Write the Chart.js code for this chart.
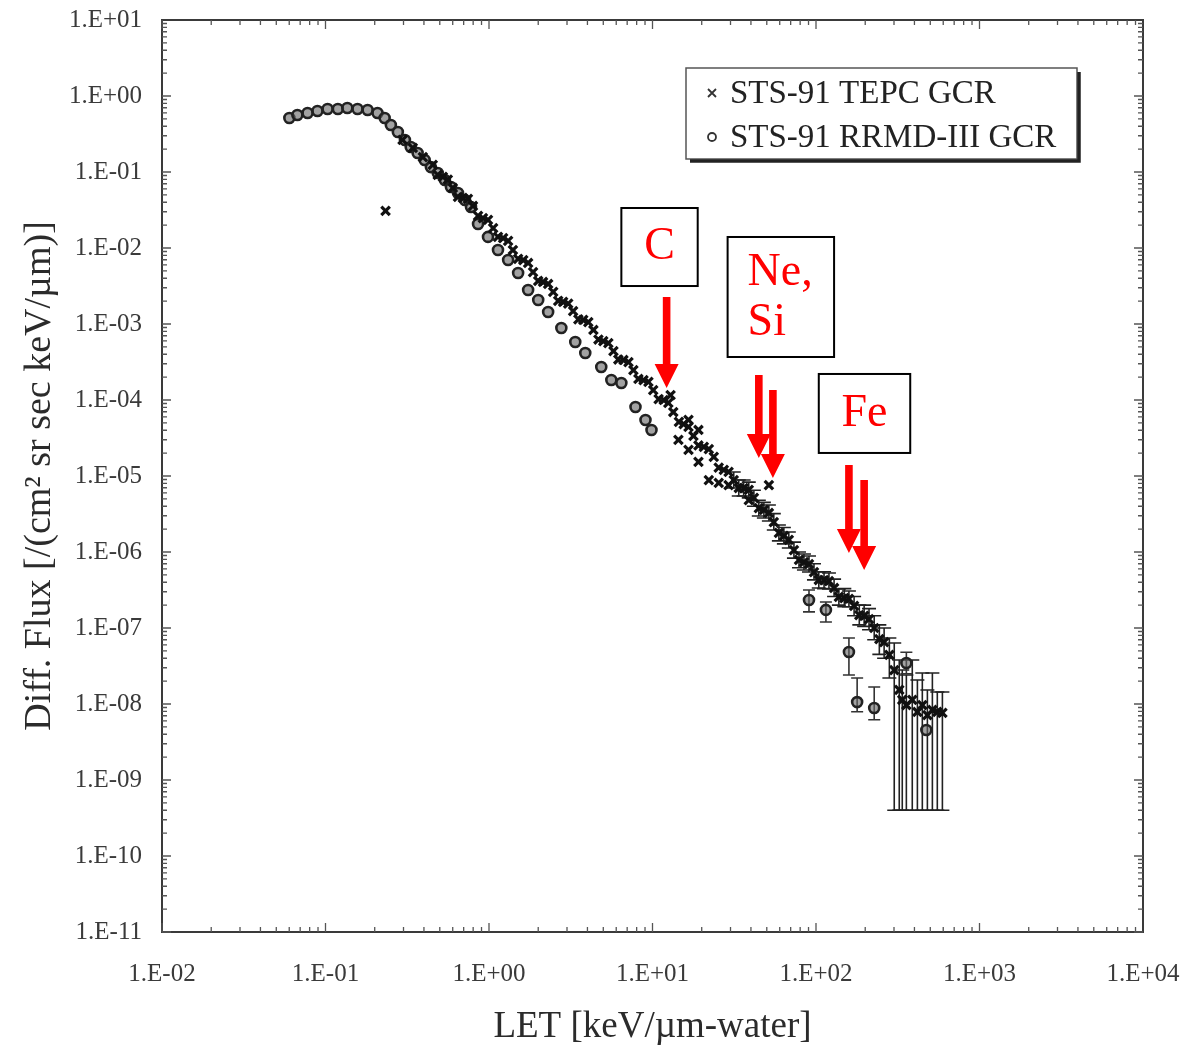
<!DOCTYPE html>
<html><head><meta charset="utf-8">
<script src="https://cdn.jsdelivr.net/npm/chart.js@4.4.0/dist/chart.umd.min.js"></script>
<style>html,body{margin:0;padding:0;background:#fff}#wrap{width:1186px;height:1049px}</style>
</head><body><div id="wrap"><canvas id="c" width="1186" height="1049"></canvas></div>
<script>
// ---------------- data ----------------
const xTickValues = [1e-2, 1e-1, 1e0, 1e1, 1e2, 1e3, 1e4];
const yTickValues = [1e1, 1e0, 1e-1, 1e-2, 1e-3, 1e-4, 1e-5, 1e-6, 1e-7, 1e-8, 1e-9, 1e-10, 1e-11];

const seriesNames = ['STS-91 TEPC GCR', 'STS-91 RRMD-III GCR'];

// STS-91 TEPC GCR (x markers) - main trace
const tepcLET = [0.233,
  0.296,0.342,0.394,0.453,0.522,0.601,0.692,0.798,0.918,1.06,1.22,1.40,1.62,1.86,2.14,2.47,2.84,3.27,3.77,4.35,
  5.00,5.77,6.64,7.64,8.81,10.1,11.7,13.4,15.5,17.8,20.6,23.7,27.3,31.4,36.1,41.7,48.0,55.2,63.6,73.3,
  84.4,97.2,112,129,149,171,197,227,261,281,301,323,337,357,388,417,447,480,515,552,593,
  12.9,16.6,19.1,14.4,16.6,19.1,22.1,25.4,29.2,38.8,51.5];
const tepcFlux = [0.0307,
  0.264,0.207,0.157,0.124,0.0860,0.0616,0.0455,0.0357,0.0248,0.0183,0.0135,0.00941,0.00695,0.00483,0.00357,0.00264,0.00195,0.00148,0.00113,8.34e-4,
  5.97e-4,4.41e-4,3.36e-4,2.48e-4,1.83e-4,1.35e-4,1.0e-4,6.95e-5,4.83e-5,3.36e-5,2.41e-5,1.78e-5,1.20e-5,8.85e-6,6.95e-6,5.14e-6,3.57e-6,2.48e-6,1.63e-6,1.06e-6,
  7.38e-7,5.45e-7,4.28e-7,3.36e-7,2.48e-7,1.95e-7,1.44e-7,1.0e-7,6.54e-8,4.42e-8,2.80e-8,1.53e-8,1.13e-8,9.70e-9,1.13e-8,7.85e-9,9.70e-9,7.16e-9,8.34e-9,7.85e-9,7.62e-9,
  1.16e-4,5.46e-5,4.03e-5,2.98e-5,2.2e-5,1.53e-5,8.85e-6,8.1e-6,7.6e-6,4.83e-6,7.6e-6];
const tepcFluxLo = [null,
  null,null,null,null,null,null,null,null,null,null,null,null,null,null,null,null,null,null,null,null,
  null,null,null,null,null,null,null,null,null,null,null,null,null,6.95e-6,5.45e-6,4.0e-6,2.8e-6,1.95e-6,1.28e-6,8.3e-7,
  5.8e-7,4.3e-7,3.3e-7,2.6e-7,1.9e-7,1.45e-7,1.05e-7,7.0e-8,4.0e-8,2.2e-8,4e-10,4e-10,4e-10,4e-10,4e-10,4e-10,4e-10,4e-10,4e-10,4e-10,4e-10,
  null,null,null,null,null,null,null,null,null,null,null];
const tepcFluxHi = [null,
  null,null,null,null,null,null,null,null,null,null,null,null,null,null,null,null,null,null,null,null,
  null,null,null,null,null,null,null,null,null,null,null,null,null,1.13e-5,8.85e-6,6.5e-6,4.5e-6,3.2e-6,2.1e-6,1.35e-6,
  9.4e-7,7.0e-7,5.5e-7,4.4e-7,3.3e-7,2.6e-7,2.0e-7,1.45e-7,1.0e-7,7.4e-8,6.35e-8,3.8e-8,2.8e-8,2.41e-8,3.8e-8,2.07e-8,2.56e-8,1.53e-8,2.56e-8,1.44e-8,1.44e-8,
  null,null,null,null,null,null,null,null,null,null,null];

// STS-91 TEPC GCR - additional points filling the thick band
const tepcBandLET = [0.486,0.560,0.646,0.743,0.857,0.986,1.135,1.309,1.507,1.735,2.0,2.30,2.65,3.05,3.52,4.05,4.67,5.37,6.18,7.13,
  8.20,9.44,10.9,12.5,14.5,16.6,19.1,22.1,25.4,29.2,33.7,38.8,44.7,51.5,59.3,68.2,78.7,90.6,104,120,138,159,184,211,244];
const tepcBandFlux = [0.0914,0.0796,0.0469,0.0442,0.0264,0.0234,0.0140,0.0124,0.00717,0.00635,0.00368,0.00336,0.00201,0.00186,0.00115,0.00106,6.25e-4,5.62e-4,3.41e-4,3.16e-4,
  1.89e-4,1.73e-4,1.03e-4,9.14e-5,5.14e-5,4.42e-5,2.52e-5,2.26e-5,1.29e-5,1.13e-5,6.95e-6,6.55e-6,3.79e-6,3.26e-6,1.78e-6,1.44e-6,7.85e-7,6.95e-7,4.28e-7,4.15e-7,2.56e-7,2.41e-7,1.48e-7,1.31e-7,7.16e-8];
const tepcBandLo = [null,null,null,null,null,null,null,null,null,null,null,null,null,null,null,null,null,null,null,null,
  null,null,null,null,null,null,null,null,null,null,5.45e-6,5.15e-6,2.98e-6,2.56e-6,1.4e-6,1.13e-6,6.2e-7,5.45e-7,3.36e-7,3.26e-7,2.0e-7,1.9e-7,1.1e-7,9.5e-8,4.5e-8];
const tepcBandHi = [null,null,null,null,null,null,null,null,null,null,null,null,null,null,null,null,null,null,null,null,
  null,null,null,null,null,null,null,null,null,null,8.85e-6,8.3e-6,4.8e-6,4.15e-6,2.27e-6,1.83e-6,1.0e-6,8.85e-7,5.45e-7,5.3e-7,3.26e-7,3.07e-7,2.0e-7,1.8e-7,1.1e-7];

// STS-91 RRMD-III GCR (o markers)
const rrmdLET = [0.0601,0.0673,0.0777,0.0893,0.103,0.119,0.136,0.157,0.181,0.208,0.230,0.251,0.277,0.306,0.332,0.366,0.404,0.441,0.486,0.537,
  0.585,0.646,0.713,0.776,0.857,0.986,1.135,1.309,1.507,1.735,2.0,2.30,2.77,3.37,3.88,4.86,5.60,6.45,7.87,9.06,9.86,
  90.6,115,159,178.5,227,357,473];
const rrmdFlux = [0.514,0.562,0.597,0.635,0.675,0.675,0.695,0.675,0.655,0.597,0.514,0.415,0.336,0.264,0.213,0.178,0.144,0.116,0.097,0.0785,
  0.0635,0.0530,0.0428,0.0346,0.0207,0.0140,0.00941,0.00695,0.00469,0.00280,0.00207,0.00144,8.86e-4,5.80e-4,4.15e-4,2.72e-4,1.83e-4,1.67e-4,8.09e-5,5.46e-5,4.03e-5,
  2.34e-7,1.73e-7,4.83e-8,1.06e-8,8.86e-9,3.46e-8,4.55e-9];
const rrmdFluxLo = [null,null,null,null,null,null,null,null,null,null,null,null,null,null,null,null,null,null,null,null,
  null,null,null,null,null,null,null,null,null,null,null,null,null,null,null,null,null,null,null,null,null,
  1.63e-7,1.2e-7,2.41e-8,7.9e-9,6.2e-9,2.5e-8,null];
const rrmdFluxHi = [null,null,null,null,null,null,null,null,null,null,null,null,null,null,null,null,null,null,null,null,
  null,null,null,null,null,null,null,null,null,null,null,null,null,null,null,null,null,null,null,null,null,
  3.16e-7,2.2e-7,7.4e-8,2.2e-8,1.67e-8,4.8e-8,null];

// Red annotations (data coordinates: LET, flux)
const annotLabels = [['C'], ['Ne,', 'Si'], ['Fe']];
const annotBoxLET  = [[6.45, 18.9], [28.8, 129], [104, 377]];
const annotBoxFlux = [[0.0336, 0.00316], [0.01396, 3.68e-4], [2.2e-4, 2.01e-5]];
const arrowLET      = [12.2, 44.7, 54.5, 159, 197];
const arrowFluxFrom = [2.26e-3, 2.13e-4, 1.35e-4, 1.4e-5, 8.86e-6];
const arrowFluxTo   = [1.44e-4, 1.73e-5, 9.42e-6, 9.7e-7, 5.8e-7];

// ---------------- helpers ----------------
const SERIF = "'Liberation Serif', 'DejaVu Serif', serif";
const INK = '#2b2b2b';
function fmtExp(v) {
  const e = Math.round(Math.log10(v));
  const s = e < 0 ? '-' : '+';
  const a = Math.abs(e);
  return '1.E' + s + (a < 10 ? '0' + a : '' + a);
}
function pts(xs, ys) { return xs.map((x, i) => ({x: x, y: ys[i]})); }

const errorBars = {
  id: 'errorBars',
  beforeDatasetsDraw(chart) {
    const ctx = chart.ctx, xs = chart.scales.x, ys = chart.scales.y;
    ctx.save();
    chart.data.datasets.forEach(ds => {
      if (!ds.errLo) return;
      ctx.strokeStyle = ds.errColor;
      ctx.lineWidth = 1.6;
      ds.data.forEach((p, j) => {
        const lo = ds.errLo[j], hi = ds.errHi[j];
        if (lo == null || hi == null) return;
        const x = xs.getPixelForValue(p.x);
        const y1 = ys.getPixelForValue(hi), y2 = ys.getPixelForValue(lo);
        const c = ds.capHalf;
        ctx.beginPath();
        ctx.moveTo(x, y1); ctx.lineTo(x, y2);
        ctx.moveTo(x - c, y1); ctx.lineTo(x + c, y1);
        ctx.moveTo(x - c, y2); ctx.lineTo(x + c, y2);
        ctx.stroke();
      });
    });
    ctx.restore();
  }
};

const frameAndExtras = {
  id: 'frameAndExtras',
  afterDraw(chart) {
    const ctx = chart.ctx, a = chart.chartArea, xs = chart.scales.x, ys = chart.scales.y;
    ctx.save();
    // frame
    ctx.strokeStyle = '#3a3a3a';
    ctx.lineWidth = 2;
    ctx.strokeRect(a.left, a.top, a.right - a.left, a.bottom - a.top);
    // inward ticks
    ctx.lineWidth = 1.3;
    ctx.strokeStyle = '#555';
    ctx.beginPath();
    for (let e = -2; e < 4; e++) {
      for (let m = 1; m < 10; m++) {
        const v = m * Math.pow(10, e);
        const x = xs.getPixelForValue(v);
        const L = m === 1 ? 9 : 5;
        ctx.moveTo(x, a.bottom); ctx.lineTo(x, a.bottom - L);
        ctx.moveTo(x, a.top); ctx.lineTo(x, a.top + L);
      }
    }
    for (let e = -11; e < 1; e++) {
      for (let m = 1; m < 10; m++) {
        const v = m * Math.pow(10, e);
        const y = ys.getPixelForValue(v);
        const L = m === 1 ? 9 : 5;
        ctx.moveTo(a.left, y); ctx.lineTo(a.left + L, y);
        ctx.moveTo(a.right, y); ctx.lineTo(a.right - L, y);
      }
    }
    ctx.stroke();

    // red annotation boxes
    ctx.font = '46px ' + SERIF;
    annotLabels.forEach((lines, i) => {
      const x0 = xs.getPixelForValue(annotBoxLET[i][0]), x1 = xs.getPixelForValue(annotBoxLET[i][1]);
      const y0 = ys.getPixelForValue(annotBoxFlux[i][0]), y1 = ys.getPixelForValue(annotBoxFlux[i][1]);
      ctx.fillStyle = '#fff';
      ctx.fillRect(x0, y0, x1 - x0, y1 - y0);
      ctx.strokeStyle = '#000';
      ctx.lineWidth = 2;
      ctx.strokeRect(x0, y0, x1 - x0, y1 - y0);
      ctx.fillStyle = '#ff0000';
      ctx.textBaseline = 'middle';
      if (lines.length === 1) {
        ctx.textAlign = 'center';
        ctx.fillText(lines[0], (x0 + x1) / 2, (y0 + y1) / 2);
      } else {
        ctx.textAlign = 'left';
        const h = (y1 - y0);
        lines.forEach((t, k) => ctx.fillText(t, x0 + 20, y0 + h * (0.3 + 0.42 * k)));
      }
    });
    // red arrows
    ctx.fillStyle = '#ff0000';
    arrowLET.forEach((lx, i) => {
      const x = xs.getPixelForValue(lx);
      const yA = ys.getPixelForValue(arrowFluxFrom[i]);
      const yB = ys.getPixelForValue(arrowFluxTo[i]);
      const hw = 12, hl = 24, sw = 3.8;
      ctx.beginPath();
      ctx.moveTo(x - sw, yA); ctx.lineTo(x + sw, yA);
      ctx.lineTo(x + sw, yB - hl); ctx.lineTo(x + hw, yB - hl);
      ctx.lineTo(x, yB); ctx.lineTo(x - hw, yB - hl);
      ctx.lineTo(x - sw, yB - hl); ctx.closePath();
      ctx.fill();
    });

    // legend
    const L = a.right - 457, T = a.top + 48, W = 391, H = 91;
    ctx.fillStyle = '#fff';
    ctx.fillRect(L, T, W, H);
    ctx.strokeStyle = '#555';
    ctx.lineWidth = 1.5;
    ctx.strokeRect(L, T, W, H);
    ctx.strokeStyle = '#222';
    ctx.lineWidth = 3.5;
    ctx.beginPath();
    ctx.moveTo(L + 4, T + H + 2); ctx.lineTo(L + W + 2, T + H + 2); ctx.lineTo(L + W + 2, T + 4);
    ctx.stroke();
    ctx.font = '33px ' + SERIF;
    ctx.textAlign = 'left';
    ctx.textBaseline = 'middle';
    chart.data.datasets.forEach((ds, i) => {
      const cy = T + 25 + i * 44;
      const mx = L + 26;
      ctx.strokeStyle = '#333';
      ctx.lineWidth = 1.8;
      ctx.beginPath();
      if (ds.pointStyle === 'crossRot') {
        ctx.moveTo(mx - 4, cy - 4); ctx.lineTo(mx + 4, cy + 4);
        ctx.moveTo(mx + 4, cy - 4); ctx.lineTo(mx - 4, cy + 4);
      } else {
        ctx.arc(mx, cy, 4, 0, Math.PI * 2);
      }
      ctx.stroke();
      ctx.fillStyle = '#222';
      ctx.fillText(ds.label, L + 44, cy + 1);
    });
    ctx.restore();
  }
};

new Chart(document.getElementById('c'), {
  type: 'scatter',
  data: {
    datasets: [
      {
        label: seriesNames[0],
        data: pts(tepcLET.concat(tepcBandLET), tepcFlux.concat(tepcBandFlux)),
        errLo: tepcFluxLo.concat(tepcBandLo), errHi: tepcFluxHi.concat(tepcBandHi),
        errColor: '#222', capHalf: 7,
        pointStyle: 'crossRot', pointRadius: 6, borderWidth: 3.2,
        borderColor: '#111', backgroundColor: '#111', order: 1
      },
      {
        label: seriesNames[1],
        data: pts(rrmdLET, rrmdFlux),
        errLo: rrmdFluxLo, errHi: rrmdFluxHi, errColor: '#333', capHalf: 6,
        pointStyle: 'circle', pointRadius: 5, borderWidth: 2.6,
        borderColor: '#222', backgroundColor: 'rgba(100,100,100,0.6)', order: 2
      }
    ]
  },
  options: {
    responsive: false,
    devicePixelRatio: 1,
    animation: false,
    layout: { padding: { top: 20, right: 43, bottom: 0, left: 0 } },
    plugins: { legend: { display: false }, tooltip: { enabled: false } },
    scales: {
      x: {
        type: 'logarithmic', min: 1e-2, max: 1e4, position: 'bottom',
        grid: { display: false, drawTicks: false },
        border: { display: false },
        afterBuildTicks: s => { s.ticks = xTickValues.map(v => ({ value: v })); },
        afterFit: s => { s.height = 117; s.paddingLeft = 0; s.paddingRight = 0; },
        ticks: {
          autoSkip: false, maxRotation: 0, padding: 27, color: '#3a3a3a',
          font: { family: SERIF, size: 25 },
          callback: v => fmtExp(v)
        },
        title: {
          display: true, text: 'LET [keV/µm-water]', color: INK,
          font: { family: SERIF, size: 37 }, padding: { top: 0, bottom: 0 }
        }
      },
      y: {
        type: 'logarithmic', min: 1e-11, max: 1e1, position: 'left',
        grid: { display: false, drawTicks: false },
        border: { display: false },
        afterBuildTicks: s => { s.ticks = yTickValues.map(v => ({ value: v })); },
        afterFit: s => { s.width = 162; s.paddingTop = 0; s.paddingBottom = 0; },
        ticks: {
          autoSkip: false, padding: 20, color: '#3a3a3a',
          font: { family: SERIF, size: 25 },
          callback: v => fmtExp(v)
        },
        title: {
          display: true, text: 'Diff. Flux [/(cm² sr sec keV/µm)]', color: INK,
          font: { family: SERIF, size: 38 }, padding: { top: 17, bottom: 0 }
        }
      }
    }
  },
  plugins: [errorBars, frameAndExtras]
});
</script></body></html>
